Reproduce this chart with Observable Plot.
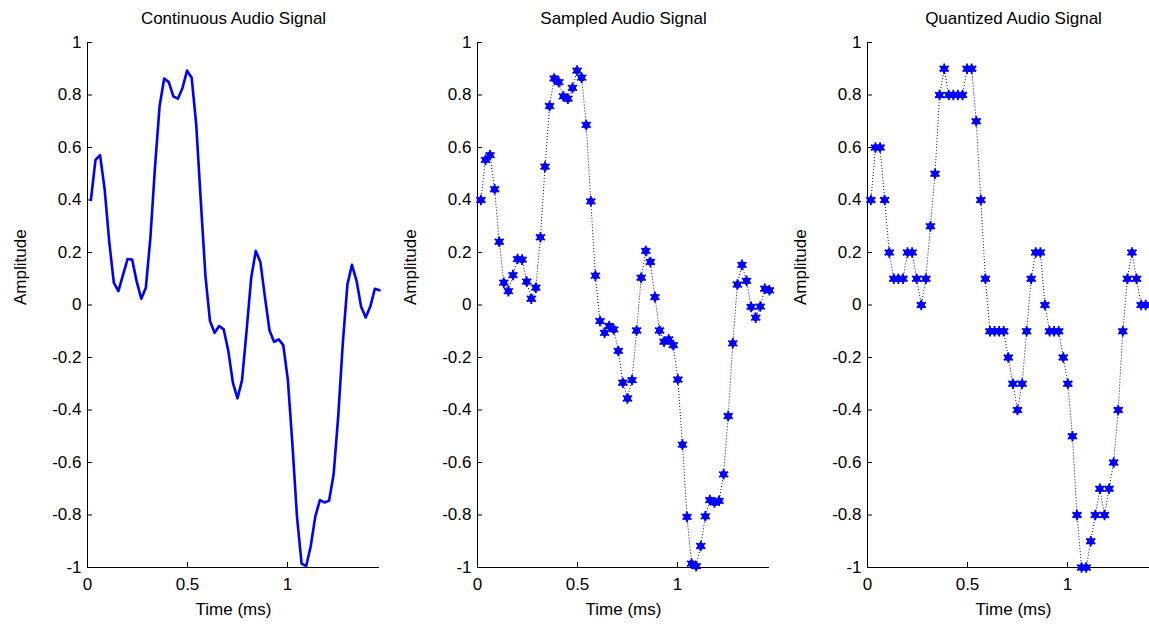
<!DOCTYPE html>
<html>
<head>
<meta charset="utf-8">
<script src="https://cdn.jsdelivr.net/npm/d3@7"></script>
<script src="https://cdn.jsdelivr.net/npm/@observablehq/plot@0.6"></script>
<style>
html, body { margin: 0; padding: 0; background: #fff; overflow: hidden; width: 1149px; height: 624px; }
#wrap { position: relative; width: 1149px; height: 624px; overflow: hidden; background: #fff; }
.panel { position: absolute; top: 0; width: 390px; height: 624px; }
.panel svg { max-width: none !important; width: 390px; height: 624px; }
</style>
</head>
<body>
<div id="wrap"></div>
<script>
// ---- chart text ----
const panelTitles = ["Continuous Audio Signal", "Sampled Audio Signal", "Quantized Audio Signal"];
const xLabel = "Time (ms)";
const yLabel = "Amplitude";

// ---- ticks ----
const xTicks = [0, 0.5, 1];
const xTickLabels = ["0", "0.5", "1"];
const yTicks = [-1, -0.8, -0.6, -0.4, -0.2, 0, 0.2, 0.4, 0.6, 0.8, 1];
const yTickLabels = ["-1", "-0.8", "-0.6", "-0.4", "-0.2", "0", "0.2", "0.4", "0.6", "0.8", "1"];

// ---- time axis (ms) ----
const timeDomain = [0, 1.46];
const sampleStart = 0.017;     // time of first sample (ms)
const samplePeriod = 0.0229;   // sampling period (ms)

// ---- sampled amplitudes (64 samples) ----
const sampledAmplitude = [
  0.400, 0.553, 0.571, 0.441, 0.241, 0.085, 0.053, 0.114, 0.175, 0.173,
  0.089, 0.024, 0.066, 0.258, 0.527, 0.758, 0.863, 0.849, 0.795, 0.786,
  0.827, 0.893, 0.866, 0.686, 0.395, 0.112, -0.061, -0.106, -0.080, -0.093,
  -0.175, -0.296, -0.356, -0.286, -0.097, 0.104, 0.206, 0.164, 0.030, -0.097,
  -0.140, -0.131, -0.153, -0.284, -0.532, -0.807, -0.985, -0.995, -0.918, -0.805,
  -0.743, -0.752, -0.746, -0.645, -0.423, -0.146, 0.078, 0.153, 0.092, -0.007,
  -0.048, -0.006, 0.062, 0.056
];

// ---- quantized amplitudes ----
const quantizedAmplitude = [
  0.4, 0.6, 0.6, 0.4, 0.2, 0.1, 0.1, 0.1, 0.2, 0.2,
  0.1, 0.0, 0.1, 0.3, 0.5, 0.8, 0.9, 0.8, 0.8, 0.8,
  0.8, 0.9, 0.9, 0.7, 0.4, 0.1, -0.1, -0.1, -0.1, -0.1,
  -0.2, -0.3, -0.4, -0.3, -0.1, 0.1, 0.2, 0.2, 0.0, -0.1,
  -0.1, -0.1, -0.2, -0.3, -0.5, -0.8, -1.0, -1.0, -0.9, -0.8,
  -0.7, -0.8, -0.7, -0.6, -0.4, -0.1, 0.1, 0.2, 0.1, 0.0,
  0.0, 0.0, 0.1, 0.1
];

// ---- build tables ----
const samples = sampledAmplitude.map((a, i) => ({
  t: sampleStart + i * samplePeriod,
  a,
  q: quantizedAmplitude[i]
}));
const xLab = new Map(xTicks.map((v, i) => [v, xTickLabels[i]]));
const yLab = new Map(yTicks.map((v, i) => [v, yTickLabels[i]]));

const W = 390, H = 624;
const mL = 87, mR = 11, mT = 42, mB = 57;
const frameW = W - mL - mR, frameH = H - mT - mB;
const FONT = "'Liberation Sans', Arial, Helvetica, sans-serif";
const FS = 17;
const BLUE = "#0000ff";

function axesMarks(title) {
  return [
    Plot.ruleX([0], {x: d => d, stroke: "black", strokeWidth: 1}),
    Plot.ruleY([-1], {y: d => d, stroke: "black", strokeWidth: 1}),
    Plot.tickY(yTicks, {y: d => d, insetRight: frameW - 5, stroke: "black"}),
    Plot.tickX(xTicks, {x: d => d, insetTop: frameH - 5, stroke: "black"}),
    Plot.axisY(yTicks, {tickSize: 0, tickPadding: 6, tickFormat: d => yLab.get(d), label: null, fontSize: FS, fill: "black"}),
    Plot.axisX(xTicks, {tickSize: 0, tickPadding: 10, tickFormat: d => xLab.get(d), label: null, fontSize: FS, fill: "black"}),
    Plot.text([title], {text: d => d, frameAnchor: "top", lineAnchor: "middle", dy: -24, fontSize: FS, fill: "black"}),
    Plot.text([xLabel], {text: d => d, frameAnchor: "bottom", lineAnchor: "middle", dy: 42, fontSize: FS, fill: "black"}),
    Plot.text([yLabel], {text: d => d, frameAnchor: "left", lineAnchor: "middle", dx: -67, rotate: -90, fontSize: FS, fill: "black"})
  ];
}

function makePanel(title, marks) {
  return Plot.plot({
    width: W, height: H,
    marginLeft: mL, marginRight: mR, marginTop: mT, marginBottom: mB,
    x: {domain: timeDomain, axis: null},
    y: {domain: [-1, 1], axis: null},
    style: {fontFamily: FONT, fontSize: FS + "px", background: "white", overflow: "visible", maxWidth: "none"},
    marks: [...axesMarks(title), ...marks]
  });
}

function sampleMarks(key) {
  return [
    Plot.line(samples, {x: "t", y: key, stroke: "#00008b", strokeWidth: 1, strokeDasharray: "1 2", strokeLinecap: "butt"}),
    Plot.dot(samples, {x: "t", y: key, r: 3.6, fill: BLUE, stroke: "none"}),
    Plot.dot(samples, {x: "t", y: key, r: 5, symbol: "asterisk", stroke: BLUE, strokeWidth: 1.8})
  ];
}

const panels = [
  makePanel(panelTitles[0], [
    Plot.line(samples, {x: "t", y: "a", stroke: BLUE, strokeWidth: 2.6, strokeLinejoin: "round"})
  ]),
  makePanel(panelTitles[1], sampleMarks("a")),
  makePanel(panelTitles[2], sampleMarks("q"))
];

const wrap = document.getElementById("wrap");
panels.forEach((p, i) => {
  const d = document.createElement("div");
  d.className = "panel";
  d.style.left = (i * 390) + "px";
  d.appendChild(p);
  wrap.appendChild(d);
});
</script>
</body>
</html>
